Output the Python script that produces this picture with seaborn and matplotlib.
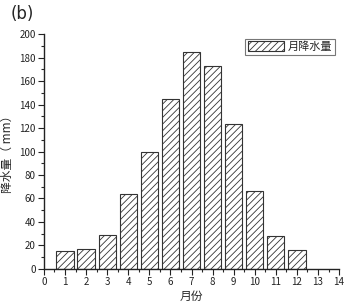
import matplotlib
matplotlib.use("Agg")
import matplotlib.pyplot as plt
import seaborn as sns
import pandas as pd
from matplotlib.ticker import MultipleLocator

months = [1, 2, 3, 4, 5, 6, 7, 8, 9, 10, 11, 12]
precip = [15, 17, 29, 64, 100, 145, 185, 173, 123, 66, 28, 16]
series_label = "月降水量"
x_label = "月份"
y_label = "降水量（ mm）"

sns.set_style("ticks")
plt.rcParams['font.family'] = ['Noto Sans CJK SC', 'DejaVu Sans']
plt.rcParams['hatch.color'] = '#444444'
plt.rcParams['hatch.linewidth'] = 0.6

df = pd.DataFrame({"month": months, "precip": precip})

fig = plt.figure(figsize=(3.46, 3.07), dpi=100)
ax = fig.add_axes([0.127, 0.124, 0.853, 0.765])

sns.barplot(data=df, x="month", y="precip", native_scale=True, width=0.82,
            color="white", edgecolor="#333333", linewidth=0.8, hatch="/////",
            label=series_label, ax=ax)

ax.set_xlim(0, 14)
ax.set_ylim(0, 200)
ax.xaxis.set_major_locator(MultipleLocator(1))
ax.xaxis.set_minor_locator(MultipleLocator(0.5))
ax.yaxis.set_major_locator(MultipleLocator(20))
ax.yaxis.set_minor_locator(MultipleLocator(10))
ax.tick_params(which='major', direction='out', length=4, width=0.8, labelsize=7, pad=2, colors='#222222')
ax.tick_params(which='minor', direction='out', length=2.5, width=0.8)
for s in ['top', 'right']:
    ax.spines[s].set_visible(False)
for s in ['left', 'bottom']:
    ax.spines[s].set_linewidth(1.0)
    ax.spines[s].set_color('#222222')

ax.set_xlabel(x_label, fontsize=8.5, labelpad=2)
ax.set_ylabel(y_label, fontsize=8.5, labelpad=4)

leg = ax.legend(loc='upper right', bbox_to_anchor=(0.995, 0.99), fontsize=8,
                frameon=True, fancybox=False, edgecolor='#555555',
                handlelength=3.2, handleheight=1.0, borderpad=0.25,
                handletextpad=0.4, borderaxespad=0.2)
leg.get_frame().set_linewidth(0.8)

fig.text(0.03, 0.955, "(b)", fontsize=12, ha='left', va='center', family='DejaVu Sans')

fig.savefig("out.png", dpi=100)
